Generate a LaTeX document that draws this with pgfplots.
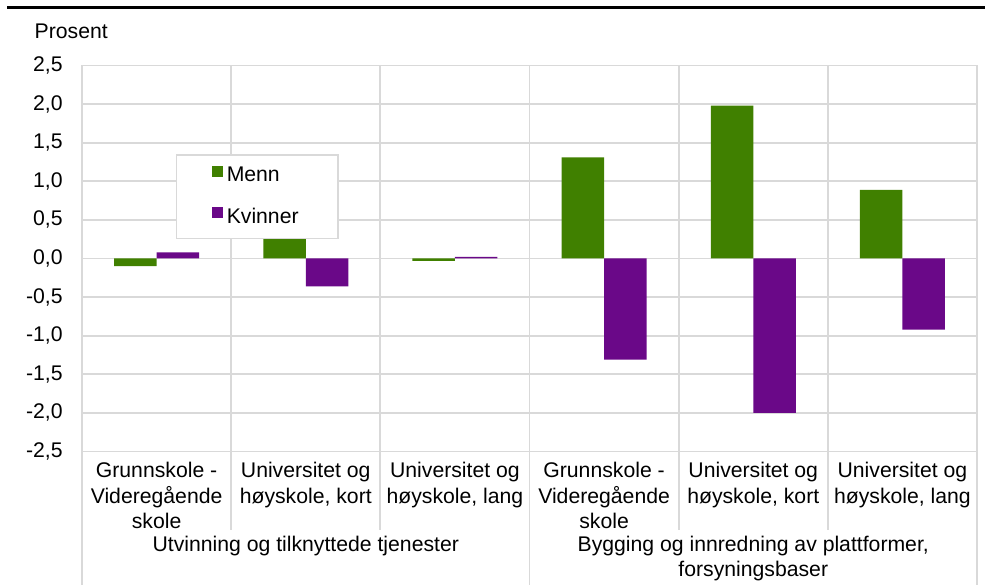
\documentclass[border=0pt]{standalone}
\usepackage{pgfplots}
\pgfplotsset{compat=1.18}
\usepackage{fontspec}
\setmainfont{Liberation Sans}

\definecolor{menn}{HTML}{408000}
\definecolor{kvinner}{HTML}{6A0888}
\definecolor{gridgrey}{HTML}{D9D9D9}

\pgfplotsset{
  sqleg/.style={legend image code/.code={\fill[##1] (0pt,-0.6pt) rectangle (5.5pt,4.9pt);}},
}

\begin{document}
\begin{tikzpicture}[font=\fontsize{10.6}{12.8}\selectfont]
\begin{axis}[
  scale only axis, width=447.5pt, height=193pt,
  ybar=0pt, bar width=21.25pt,
  xmin=-0.5, xmax=5.5, ymin=-2.5, ymax=2.5,
  clip=false,
  xtick={0,1,2,3,4,5},
  xticklabels={{Grunnskole -\\Videregående\\skole},{Universitet og\\høyskole, kort},{Universitet og\\høyskole, lang},
               {Grunnskole -\\Videregående\\skole},{Universitet og\\høyskole, kort},{Universitet og\\høyskole, lang}},
  xticklabel style={align=center, anchor=north, inner sep=0pt, yshift=-5.1pt},
  ytick={-2.5,-2,-1.5,-1,-0.5,0,0.5,1,1.5,2,2.5},
  yticklabel style={anchor=east, inner sep=0pt, xshift=-9.5pt},
  minor xtick={0.5,1.5,2.5,3.5,4.5},
  xminorgrids=true, ymajorgrids=true,
  grid style={gridgrey, line width=0.85pt},
  minor grid style={gridgrey, line width=0.85pt},
  axis line style={gridgrey, line width=0.85pt},
  major tick length=0pt, minor tick length=0pt,
  tick style={draw=none},
  /pgf/number format/.cd, fixed, fixed zerofill, precision=1, use comma, assume math mode=true, /pgfplots/.cd,
  legend style={at={(rel axis cs:0.1047,0.7707)}, anchor=north west,
    draw=gridgrey, line width=0.85pt, fill=white,
    inner xsep=17.6pt, inner ysep=2.6pt, row sep=4.6pt,
    nodes={inner xsep=2pt, inner ysep=3.5pt}},
  legend cell align=left,
]
\addplot[fill=menn, draw=none, sqleg] coordinates {
  (0,-0.10) (1,0.32) (2,-0.03) (3,1.31) (4,1.98) (5,0.89)
};
\addplot[fill=kvinner, draw=none, sqleg] coordinates {
  (0,0.08) (1,-0.36) (2,0.02) (3,-1.31) (4,-2.00) (5,-0.92)
};
\legend{Menn, Kvinner}

% separators under the category labels
\draw[gridgrey, line width=0.85pt] (axis cs:0.5,-2.5) -- ([yshift=-39.25pt]axis cs:0.5,-2.5);
\draw[gridgrey, line width=0.85pt] (axis cs:1.5,-2.5) -- ([yshift=-39.25pt]axis cs:1.5,-2.5);
\draw[gridgrey, line width=0.85pt] (axis cs:3.5,-2.5) -- ([yshift=-39.25pt]axis cs:3.5,-2.5);
\draw[gridgrey, line width=0.85pt] (axis cs:4.5,-2.5) -- ([yshift=-39.25pt]axis cs:4.5,-2.5);
\draw[gridgrey, line width=0.85pt] (axis cs:-0.5,-2.5) -- ([yshift=-67pt]axis cs:-0.5,-2.5);
\draw[gridgrey, line width=0.85pt] (axis cs:2.5,-2.5) -- ([yshift=-67pt]axis cs:2.5,-2.5);
\draw[gridgrey, line width=0.85pt] (axis cs:5.5,-2.5) -- ([yshift=-67pt]axis cs:5.5,-2.5);

% group labels
\node[anchor=north, align=center, inner sep=0pt] at ([yshift=-42.3pt]axis cs:1,-2.5)
  {Utvinning og tilknyttede tjenester};
\node[anchor=north, align=center, inner sep=0pt, font=\fontsize{10.6}{12.2}\selectfont]
  at ([yshift=-42.3pt]axis cs:4,-2.5) {Bygging og innredning av plattformer,\\forsyningsbaser};

\node[anchor=base west, inner sep=0pt] at ([xshift=-23.85pt, yshift=206.25pt]rel axis cs:0,0) {Prosent};
\draw[black, line width=1.65pt] ([xshift=-37.35pt, yshift=222.1pt]rel axis cs:0,0) -- ([xshift=4.5pt, yshift=222.1pt]rel axis cs:1,0);

\coordinate (bl) at (rel axis cs:0,0);
\coordinate (tr) at (rel axis cs:1,1);
\end{axis}
\path (bl) ++(-41pt,-66.75pt) coordinate (bba);
\path (tr) ++(4pt,32.75pt) coordinate (bbb);
\pgfresetboundingbox
\useasboundingbox (bba) rectangle (bbb);
\end{tikzpicture}
\end{document}
